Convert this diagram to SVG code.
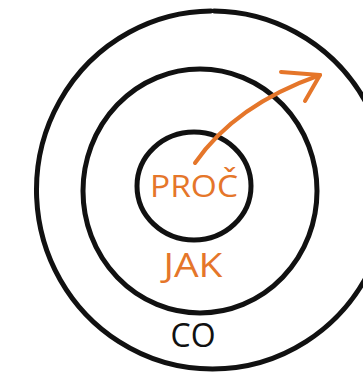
<svg xmlns="http://www.w3.org/2000/svg" width="363" height="373" viewBox="0 0 363 373">
<style>
.ring{fill:none;stroke:#111;stroke-width:5;stroke-linecap:round}
.lbl{font-family:"Open Sans","Liberation Sans",sans-serif;text-anchor:middle;font-weight:400}
.org{fill:#E5762A}
.blk{fill:#111}
.arr{fill:none;stroke:#E5762A;stroke-width:4;stroke-linecap:round;stroke-linejoin:round}
</style>
<rect width="363" height="373" fill="#fff"/>
<g id="co">
<path class="ring" d="M214,11 A176,179 0 1 1 211,11"/>
<text class="lbl blk" x="193" y="347" font-size="33" textLength="45" lengthAdjust="spacingAndGlyphs">CO</text>
</g>
<g id="jak">
<ellipse class="ring" cx="200" cy="191" rx="117" ry="122"/>
<text class="lbl org" x="193" y="277" font-size="33" textLength="59" lengthAdjust="spacingAndGlyphs">JAK</text>
</g>
<g id="proc">
<ellipse class="ring" cx="194" cy="186" rx="57" ry="54"/>
<text class="lbl org" x="194" y="197" font-size="31" textLength="88" lengthAdjust="spacingAndGlyphs">PROČ</text>
</g>
<g id="connectors">
<path class="arr" d="M195,163 Q235,105 320,75"/>
<path class="arr" d="M281,72 L320,75 L305,101"/>
</g>
</svg>
